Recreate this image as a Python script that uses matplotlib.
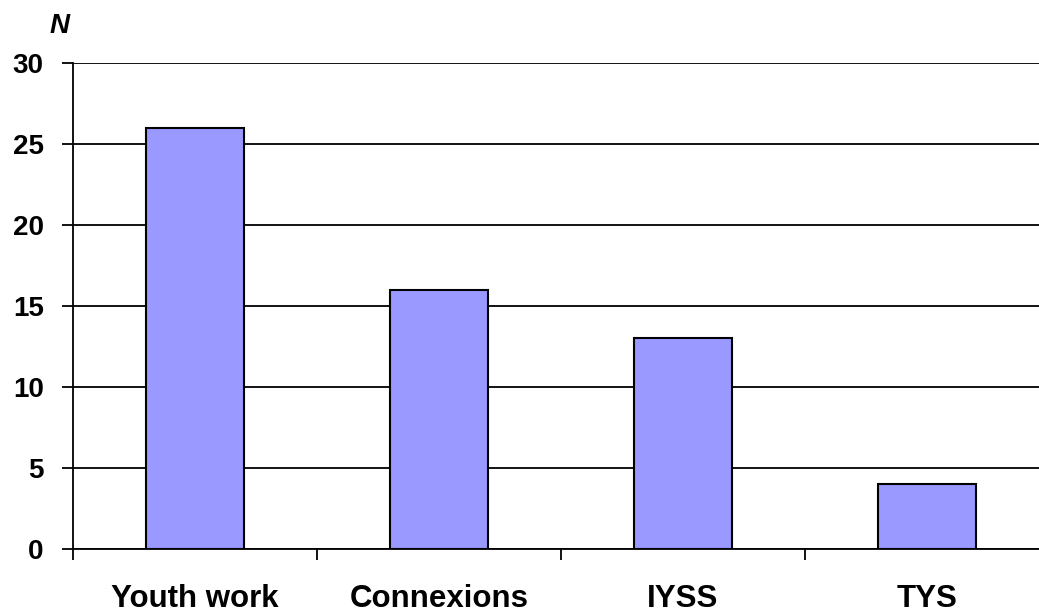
import matplotlib.pyplot as plt
import numpy as np

categories = ['Youth work', 'Connexions', 'IYSS', 'TYS']
values = [26, 16, 13, 4]
yticks = [0, 5, 10, 15, 20, 25, 30]

plt.rcParams['font.family'] = ['Liberation Sans', 'DejaVu Sans']
plt.rcParams['font.weight'] = 'bold'

fig = plt.figure(figsize=(10.39, 6.11), dpi=100)
ax = fig.add_axes([73 / 1039, 62 / 611, 976 / 1039, 486 / 611])

x = np.arange(len(categories))
ax.bar(x, values, width=0.4, color='#9999ff', edgecolor='black', linewidth=1.5, zorder=3)

ax.set_xlim(-0.5, len(categories) - 0.5)
ax.set_ylim(0, 30)
ax.set_yticks(yticks)
ax.set_yticklabels([str(t) for t in yticks], fontsize=20, fontweight='bold')
ax.yaxis.grid(True, color='black', linewidth=1.3, zorder=0)

ax.set_xticks(x)
ax.set_xticklabels(categories, fontsize=22.5, fontweight='bold')
ax.set_xticks(np.arange(len(categories) + 1) - 0.5, minor=True)
ax.tick_params(axis='x', which='major', length=0, pad=25)
ax.tick_params(axis='x', which='minor', length=8, width=1.3, direction='out')
ax.tick_params(axis='y', length=8, width=1.3, direction='out', pad=13)

for s in ['top', 'right']:
    ax.spines[s].set_visible(False)
ax.spines['left'].set_linewidth(1.3)
ax.spines['bottom'].set_linewidth(1.3)

fig.text(60 / 1039, 1 - 26 / 611, 'N', fontsize=20, fontweight='bold', fontstyle='italic',
         ha='center', va='center')

fig.savefig('out.png', dpi=100)
